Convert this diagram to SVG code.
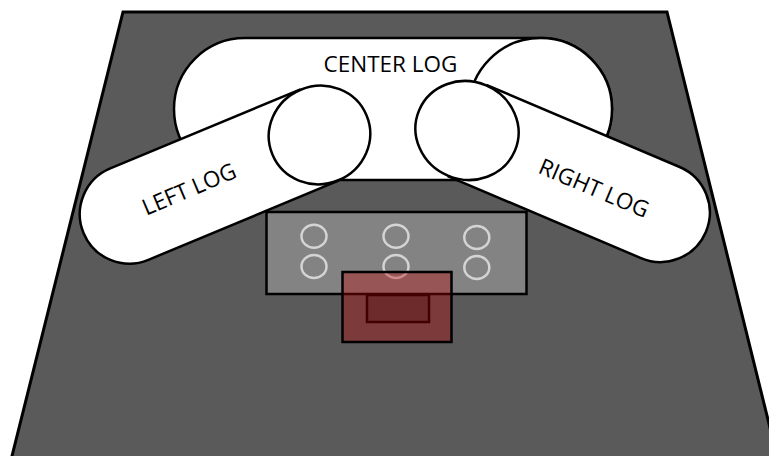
<svg xmlns="http://www.w3.org/2000/svg" width="769" height="456" viewBox="0 0 769 456">
<style>
.s{stroke:#000;stroke-width:3}
.log{fill:#fff;stroke:#000;stroke-width:2.5}
.hole{fill:none;stroke:#d4d4d4;stroke-width:2.5}
.t{font-family:"Open Sans",sans-serif;font-size:22.5px;fill:#000;text-anchor:middle}
</style>
<rect width="769" height="456" fill="#fff"/>
<path id="base" d="M123 12H667L778 460H11Z" fill="#5a5a5a" class="s"/>
<g id="center-log">
<path class="log" d="M245 38H541A71 71 0 0 1 541 180H245A71 71 0 0 1 245 38Z"/>
<ellipse class="log" cx="540.500" cy="109" rx="71.500" ry="71"/>
<text class="t" x="390.500" y="72">CENTER LOG</text>
</g>
<g id="left-log">
<g transform="translate(319.500 135) rotate(-22.6)">
<path class="log" d="M0 -49.500H-206A49.500 49.500 0 0 0 -206 49.500H0"/>
<ellipse class="log" cx="0" cy="0" rx="51" ry="49"/>
</g>
<text class="t" transform="translate(189 189) rotate(-23)" x="0" y="8">LEFT LOG</text>
</g>
<g id="right-log">
<g transform="translate(467 130.500) rotate(23)">
<path class="log" d="M0 -49.500H210A49.500 49.500 0 0 1 210 49.500H0"/>
<ellipse class="log" cx="0" cy="0" rx="52" ry="49"/>
</g>
<text class="t" transform="translate(594 188) rotate(23)" x="0" y="8">RIGHT LOG</text>
</g>
<g id="plate">
<rect x="266.500" y="212" width="260" height="82" fill="#fff" fill-opacity=".25" stroke="#000" stroke-width="2.500"/>
<ellipse class="hole" cx="314" cy="236.300" rx="12.500" ry="11.500"/>
<ellipse class="hole" cx="314" cy="266.500" rx="12.500" ry="11.500"/>
<ellipse class="hole" cx="396" cy="236.300" rx="12.500" ry="11.500"/>
<ellipse class="hole" cx="396" cy="266.500" rx="12.500" ry="11.500"/>
<ellipse class="hole" cx="476.800" cy="237.500" rx="12.500" ry="11.500"/>
<ellipse class="hole" cx="476.800" cy="267.500" rx="12.500" ry="11.500"/>
</g>
<g id="inner-box">
<rect x="367" y="295" width="62" height="27" fill="#000" fill-opacity=".25" stroke="#000" stroke-width="2.500"/>
</g>
<g id="red-box">
<rect x="342.500" y="272" width="109" height="70" fill="#c00000" fill-opacity=".35"/>
<rect x="342.500" y="272" width="109" height="70" fill="none" stroke="#000" stroke-width="2.500"/>
</g>
</svg>
